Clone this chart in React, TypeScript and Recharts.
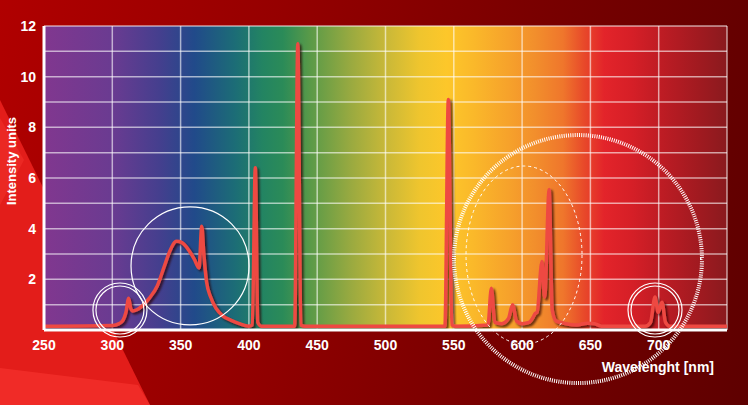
import { LineChart, Line, XAxis, YAxis, CartesianGrid, ReferenceDot, Label } from 'recharts';

// spectrum: wavelength (nm) and intensity
const wavelengths = [
    250, 300, 305, 308, 310, 312, 313.5, 315, 318, 322, 327, 333, 338, 342, 347, 351, 356, 360, 363.5,
    365.5, 367, 369, 372, 376, 381, 387, 393, 400, 402.5, 404.7, 406.5, 409, 433.5, 435.8, 438, 441,
    543.5, 546, 548.5, 551, 575, 577.5, 580, 585, 590, 593, 596, 600, 605, 608, 609.5, 611, 614.5,
    616.5, 619.8, 622, 625, 632, 640, 648, 653, 658, 690, 694, 697.3, 699.6, 702.4, 705, 708, 750,
];
const intensities = [
    0.15, 0.18, 0.25, 0.4, 0.7, 1.25, 0.85, 0.75, 0.8, 0.95, 1.25, 1.75, 2.5, 3.1, 3.5, 3.45, 3.15, 2.8, 2.45,
    4.1, 3.0, 1.9, 1.3, 0.85, 0.55, 0.38, 0.25, 0.15, 0.2, 6.4, 0.3, 0.15, 0.15, 11.3, 0.2, 0.15,
    0.15, 9.1, 0.2, 0.15, 0.2, 1.65, 0.3, 0.25, 0.45, 1.0, 0.35, 0.25, 0.3, 0.5, 0.65, 0.7, 2.7,
    1.3, 5.55, 0.8, 0.35, 0.25, 0.2, 0.27, 0.25, 0.15, 0.15, 0.3, 1.3, 0.7, 1.1, 0.3, 0.15, 0.15,
];

const xTicks = [250, 300, 350, 400, 450, 500, 550, 600, 650, 700, 750];
const yTicks = [0, 1, 2, 3, 4, 5, 6, 7, 8, 9, 10, 11, 12];

// highlight rings, in data units (wavelength, intensity)
const ringWl = [305.6, 356.9, 697.3];
const ringVal = [0.79, 2.53, 0.79];
const ringDouble = [true, false, true];

const data = wavelengths.map((wl, i) => ({ wl, value: intensities[i] }));

const font = '"Liberation Sans", Arial, sans-serif';

export default function App() {
    return (
        <div style={{ position: 'absolute', left: 0, top: 0, width: 748, height: 405, overflow: 'hidden', background: 'linear-gradient(100deg, #b00000 0%, #950000 35%, #7a0000 65%, #5e0000 100%)' }}>
            {/* background shapes */}
            <svg width={748} height={405} style={{ position: 'absolute', left: 0, top: 0 }}>
                <polygon points="0,100 150,405 0,405" fill="#e31d1a" />
                <polygon points="0,118 24,160 0,205" fill="#ee2e28" opacity={0.7} />
                <polygon points="0,368 138,385 150,405 0,405" fill="#f2302a" opacity={0.8} />
            </svg>
            <div style={{ position: 'absolute', left: 0, top: 0 }}>
                <LineChart width={748} height={405} data={data} margin={{ top: 26, right: 21, left: 0, bottom: 0 }}>
                    <defs>
                        <linearGradient id="rainbow" x1="0" y1="0" x2="1" y2="0">
                            <stop offset="0" stopColor="#81378f" />
                            <stop offset="0.1" stopColor="#6a3b91" />
                            <stop offset="0.17" stopColor="#443f8e" />
                            <stop offset="0.22" stopColor="#214a8a" />
                            <stop offset="0.28" stopColor="#1c6d76" />
                            <stop offset="0.32" stopColor="#238462" />
                            <stop offset="0.35" stopColor="#2b8b58" />
                            <stop offset="0.39" stopColor="#5a9a48" />
                            <stop offset="0.45" stopColor="#9aaa40" />
                            <stop offset="0.5" stopColor="#c8b838" />
                            <stop offset="0.55" stopColor="#efc52e" />
                            <stop offset="0.59" stopColor="#fdc72a" />
                            <stop offset="0.63" stopColor="#fab82a" />
                            <stop offset="0.68" stopColor="#f6a22b" />
                            <stop offset="0.72" stopColor="#f28e2c" />
                            <stop offset="0.76" stopColor="#ef762c" />
                            <stop offset="0.79" stopColor="#e84a2a" />
                            <stop offset="0.82" stopColor="#e3242a" />
                            <stop offset="0.86" stopColor="#d61f27" />
                            <stop offset="0.9" stopColor="#c01c24" />
                            <stop offset="0.96" stopColor="#a01a20" />
                            <stop offset="1" stopColor="#8a1a1e" />
                        </linearGradient>
                        <filter id="shadow" x="-10%" y="-10%" width="120%" height="120%">
                            <feDropShadow dx="2" dy="2" stdDeviation="1" floodColor="#2a0000" floodOpacity="0.7" />
                        </filter>
                    </defs>
                    <CartesianGrid
                        fill="url(#rainbow)"
                        fillOpacity={1}
                        stroke="rgba(255,255,255,0.6)"
                        strokeWidth={1.5}
                        horizontalValues={yTicks}
                        verticalValues={xTicks}
                    />
                    <XAxis
                        dataKey="wl"
                        type="number"
                        domain={[250, 750]}
                        ticks={xTicks}
                        allowDataOverflow
                        height={75}
                        tickLine={false}
                        tickMargin={4}
                        axisLine={{ stroke: '#ffffff', strokeWidth: 3 }}
                        tick={{ fill: '#ffffff', fontSize: 14, fontWeight: 'bold', fontFamily: font }}
                        tickFormatter={(v) => (v === 750 ? '' : String(v))}
                    >
                        <Label
                            content={({ viewBox }: any) => (
                                <text x={viewBox.x + viewBox.width - 13} y={viewBox.y + 42} textAnchor="end" fill="#ffffff" fontSize={14} fontWeight="bold" fontFamily={font}>
                                    Wavelenght [nm]
                                </text>
                            )}
                        />
                    </XAxis>
                    <YAxis
                        type="number"
                        domain={[0, 12]}
                        ticks={yTicks}
                        width={44}
                        interval={0}
                        tickLine={false}
                        axisLine={{ stroke: '#ffffff', strokeWidth: 3 }}
                        tick={{ fill: '#ffffff', fontSize: 14, fontWeight: 'bold', fontFamily: font }}
                        tickFormatter={(v) => (v > 0 && v % 2 === 0 ? String(v) : '')}
                    >
                        <Label
                            content={({ viewBox }: any) => {
                                const cx = viewBox.x + 16;
                                const cy = viewBox.y + viewBox.height / 2 - 17;
                                return (
                                    <text x={cx} y={cy} transform={`rotate(-90 ${cx} ${cy})`} textAnchor="middle" fill="#ffffff" fontSize={13} fontWeight="bold" fontFamily={font}>
                                        Intensity units
                                    </text>
                                );
                            }}
                        />
                    </YAxis>
                    <Line
                        type="monotone"
                        dataKey="value"
                        stroke="#ee4a43"
                        strokeWidth={3.5}
                        dot={false}
                        style={{ filter: 'url(#shadow)' }}
                        isAnimationActive={false}
                    />
                    {ringWl.map((wl, i) => (
                        <ReferenceDot
                            key={'o' + i}
                            x={wl}
                            y={ringVal[i]}
                            r={ringDouble[i] ? 27 : 59}
                            fill="none"
                            stroke="#ffffff"
                            strokeWidth={1.2}
                            ifOverflow="visible"
                        />
                    ))}
                    {ringWl.map((wl, i) =>
                        ringDouble[i] ? (
                            <ReferenceDot
                                key={'i' + i}
                                x={wl}
                                y={ringVal[i]}
                                r={24}
                                fill="none"
                                stroke="#ffffff"
                                strokeWidth={1.2}
                                ifOverflow="visible"
                            />
                        ) : null
                    )}
                    <ReferenceDot
                        x={640.9}
                        y={2.8}
                        r={124}
                        fill="none"
                        stroke="#ffffff"
                        strokeWidth={4}
                        strokeDasharray="1 1.2"
                        ifOverflow="visible"
                    />
                    <ReferenceDot
                        x={601.4}
                        y={2.96}
                        r={1}
                        ifOverflow="visible"
                        shape={(p: any) => (
                            <ellipse cx={p.cx} cy={p.cy} rx={58} ry={89} fill="none" stroke="#ffffff" strokeWidth={1} strokeDasharray="3 3" />
                        )}
                    />
                </LineChart>
            </div>
        </div>
    );
}
